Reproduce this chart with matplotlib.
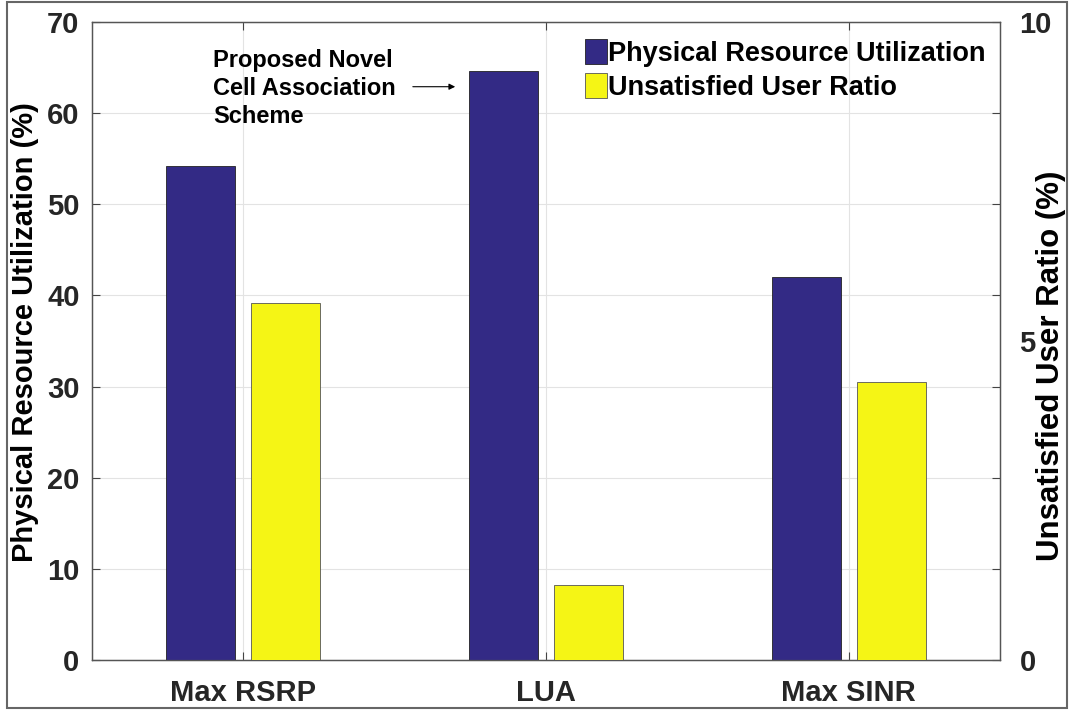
import numpy as np
import matplotlib.pyplot as plt
from matplotlib.patches import Rectangle

plt.rcParams['font.family'] = ['Liberation Sans', 'DejaVu Sans']
plt.rcParams['font.weight'] = 'bold'
plt.rcParams['axes.labelweight'] = 'bold'

schemes = ["Max RSRP", "LUA", "Max SINR"]
resource_util = [54.2, 64.6, 42.0]        # left axis, %
unsatisfied_ratio = [5.6, 1.17, 4.36]     # right axis, %

blue = "#332a85"
yellow = "#f5f515"

fig = plt.figure(figsize=(10.7, 7.11), dpi=100)
ax = fig.add_axes([92 / 1070, 1 - 660 / 711, 908 / 1070, 638 / 711])
ax2 = ax.twinx()

x = np.arange(1, len(schemes) + 1)
w = 0.228
ax.bar(x - 0.14, resource_util, w, color=blue, edgecolor="#222222", linewidth=0.6,
       label="Physical Resource Utilization", zorder=3)
ax2.bar(x + 0.14, unsatisfied_ratio, w, color=yellow, edgecolor="#555555", linewidth=0.6,
        label="Unsatisfied User Ratio", zorder=3)

ax.set_xlim(0.5, 3.5)
ax.set_ylim(0, 70)
ax2.set_ylim(0, 10)
ax.set_xticks(x)
ax.set_xticklabels(schemes, fontsize=21, color="#262626")
ax.set_yticks(range(0, 71, 10))
ax2.set_yticks([0, 5, 10])

ax.grid(True, color="#e3e3e3", linewidth=0.8, zorder=0)
ax.set_axisbelow(True)
ax.tick_params(axis="y", labelsize=21, length=6, direction="in", color="#444444",
               labelcolor="#262626", right=True, pad=9)
ax.tick_params(axis="x", length=6, direction="in", color="#444444", top=True, pad=14)
ax2.tick_params(axis="y", labelsize=21, length=0, pad=14, labelcolor="#262626")
for a in (ax, ax2):
    for s in a.spines.values():
        s.set_color("#555555")
        s.set_linewidth(0.9)

ax.set_ylabel("Physical Resource Utilization (%)", fontsize=21)
ax2.set_ylabel("Unsatisfied User Ratio (%)", fontsize=22.5)
ax.yaxis.set_label_coords(-53 / 908, 0.514)
ax2.yaxis.set_label_coords(1 + 36 / 908, 0.461)

h1, l1 = ax.get_legend_handles_labels()
h2, l2 = ax2.get_legend_handles_labels()
ax2.legend(h1 + h2, l1 + l2, loc="upper right", frameon=False, fontsize=19.5,
           handlelength=0.8, handleheight=1.05, handletextpad=0.05, labelspacing=0.25,
           bbox_to_anchor=(1.011, 1.012))

ax.text(0.9, 62.7, "Proposed Novel\nCell Association\nScheme", fontsize=17,
        va="center", ha="left", linespacing=1.27)
ax.annotate("", xy=(1.70, 62.9), xytext=(1.56, 62.9),
            arrowprops=dict(arrowstyle="-|>", color="black", lw=0.8, mutation_scale=9,
                            shrinkA=0, shrinkB=0))

fig.patches.append(Rectangle((7 / 1070, 3 / 711), 1060 / 1070, 706 / 711,
                             transform=fig.transFigure, fill=False,
                             edgecolor="#666666", linewidth=1.5))

fig.savefig("out.png", dpi=100)
